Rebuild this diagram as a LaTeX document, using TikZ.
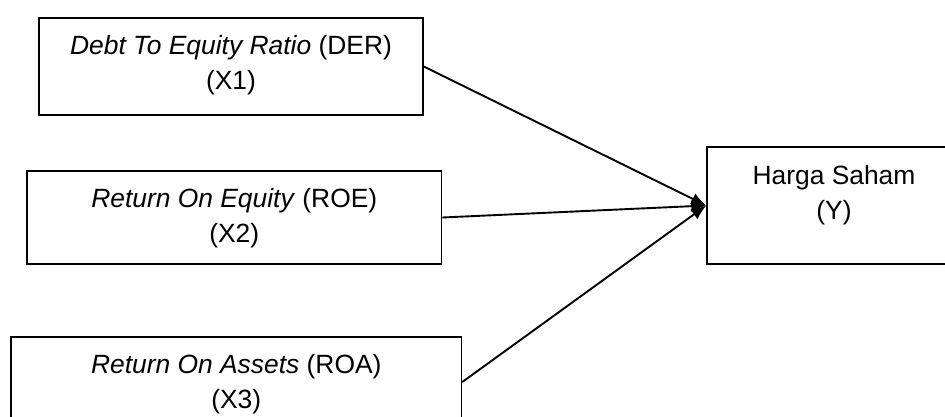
\documentclass[tikz,border=0pt]{standalone}
\usepackage{fontspec}
\setmainfont{Liberation Sans}
\usetikzlibrary{arrows.meta}
\begin{document}
\begin{tikzpicture}[x=1pt,y=-1pt,
  varbox/.style={draw=black,line width=1.6pt,rectangle,inner sep=0pt,fill=none},
  lbl/.style={anchor=base,align=center,inner sep=0pt,font=\fontsize{26.4}{35}\selectfont},
  conn/.style={line width=1.9pt,-{Latex[length=15pt,width=12pt]}}]
\clip (0,0) rectangle (945,416);
\fill[white] (0,0) rectangle (945,416);
\node[varbox,minimum width=384pt,minimum height=97pt] (b1) at (231,66.5) {};
\node[varbox,minimum width=414.5pt,minimum height=93pt] (b2) at (234.25,217.5) {};
\node[varbox,minimum width=450.5pt,minimum height=90pt] (b3) at (236.25,382) {};
\node[varbox,minimum width=254pt,minimum height=117pt] (by) at (834,205.5) {};
\node[lbl] (l1) at (231,89) {\textit{Debt To Equity Ratio} (DER)\\(X1)};
\node[lbl] (l2) at (234.25,242) {\textit{Return On Equity} (ROE)\\(X2)};
\node[lbl] (l3) at (236.25,408) {\textit{Return On Assets} (ROA)\\(X3)};
\node[lbl] (ly) at (834,219) {Harga Saham\\(Y)};
\draw[conn] (b1.east) -- (by.west);
\draw[conn] (b2.east) -- (by.west);
\draw[conn] (b3.east) -- (by.west);
\end{tikzpicture}
\end{document}
